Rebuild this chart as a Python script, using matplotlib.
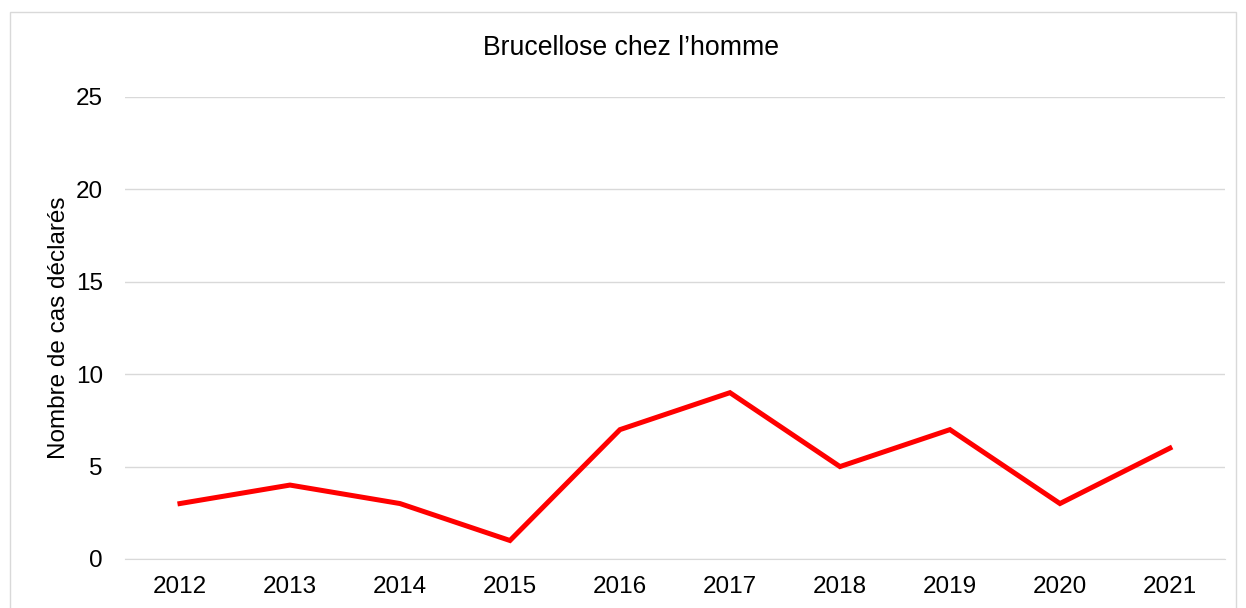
import matplotlib.pyplot as plt
from matplotlib.patches import Rectangle

plt.rcParams['font.family'] = ['Liberation Sans', 'DejaVu Sans']

years = ['2012', '2013', '2014', '2015', '2016', '2017', '2018', '2019', '2020', '2021']
cases = [3, 4, 3, 1, 7, 9, 5, 7, 3, 6]

fig = plt.figure(figsize=(12.46, 6.08), dpi=100)
ax = fig.add_axes([0.1003, 0.0806, 0.8828, 0.7599])

x = range(len(years))
ax.plot(x, cases, color='#ff0000', linewidth=3.6, solid_joinstyle='miter')

ax.set_xlim(-0.5, len(years) - 0.5)
ax.set_ylim(0, 25)
ax.set_yticks([0, 5, 10, 15, 20, 25])
ax.set_xticks(list(x))
ax.set_xticklabels(years)
ax.grid(axis='y', color='#d9d9d9', linewidth=1)
ax.set_axisbelow(True)
for s in ['top', 'right', 'left']:
    ax.spines[s].set_visible(False)
ax.spines['bottom'].set_color('#d9d9d9')
ax.tick_params(axis='x', length=0, labelsize=17.5, pad=12)
ax.tick_params(axis='y', length=0, labelsize=17.5, pad=16)
ax.set_ylabel('Nombre de cas déclarés', fontsize=17.5, labelpad=4)
fig.text(631 / 1246, 1 - 48 / 608, 'Brucellose chez l\u2019homme', fontsize=19.2,
         ha='center', va='center')

fig.patches.append(Rectangle((10 / 1246, -0.05), 1226 / 1246, 1 - 12 / 608 + 0.05,
                             transform=fig.transFigure, fill=False,
                             edgecolor='#d9d9d9', linewidth=1))

fig.savefig('out.png', dpi=100)
